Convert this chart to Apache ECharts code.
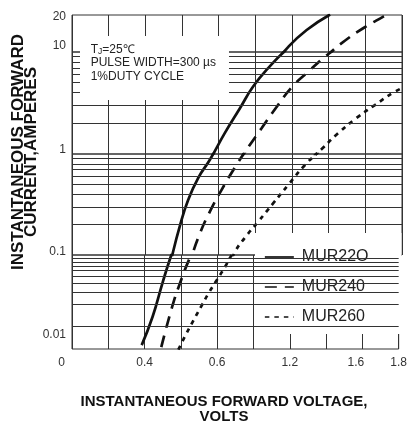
<!DOCTYPE html>
<html><head><meta charset="utf-8">
<script src="https://cdn.jsdelivr.net/npm/echarts@6/dist/echarts.min.js"></script>
<style>html,body{margin:0;padding:0;background:#fff}#c{width:410px;height:425px}</style>
</head><body><div id="c"></div>
<script>
// ---- Data (x: the chart's voltage axis units, y: amperes) ----
const seriesNames = ['MUR22O', 'MUR240', 'MUR260'];
const mur220X = [0.392, 0.422, 0.449, 0.472, 0.495, 0.517, 0.544, 0.576, 0.617, 0.658, 0.694, 0.735, 0.790, 0.840, 0.904];
const mur220Y = [0.00533, 0.0134, 0.0398, 0.0946, 0.199, 0.352, 0.578, 0.878, 1.61, 2.81, 4.58, 6.94, 11.0, 15.1, 20.2];
const mur240X = [0.446, 0.476, 0.499, 0.526, 0.549, 0.576, 0.608, 0.649, 0.676, 0.717, 0.760, 0.801, 0.846, 0.895, 0.945, 0.994, 1.049, 1.062];
const mur240Y = [0.0050, 0.0186, 0.0419, 0.0946, 0.164, 0.269, 0.442, 0.783, 1.10, 1.79, 2.96, 4.58, 6.49, 9.29, 12.4, 15.6, 19.4, 20.3];
const mur260X = [0.493, 0.513, 0.535, 0.558, 0.576, 0.599, 0.622, 0.645, 0.672, 0.708, 0.749, 0.790, 0.836, 0.881, 0.926, 0.975, 1.026, 1.076, 1.104];
const mur260Y = [0.0046, 0.00739, 0.0120, 0.0196, 0.0287, 0.0443, 0.0683, 0.108, 0.149, 0.214, 0.326, 0.496, 0.783, 1.12, 1.60, 2.24, 3.02, 3.99, 4.50];

// ---- Axes ----
const xMin = 0.2, xMax = 1.1, xStep = 0.1;
const xTickValues = [0.2, 0.4, 0.6, 0.8, 1.0, 1.1];
const xTickLabels = ['0', '0.4', '0.6', '1.2', '1.6', '1.8'];
// the log scale is drawn in decade bands [min, max]
const yBands = [[10, 20], [1, 10], [0.1, 1], [0.0047, 0.1]];
const yTickValues = [20, 10, 1, 0.1, 0.01];
const yTickLabels = ['20', '10', '1', '0.1', '0.01'];
const yGridLines = [
  [],
  [2, 3, 4, 5, 6, 7, 8, 9],
  [0.2, 0.3, 0.4, 0.5, 0.6, 0.7, 0.8, 0.9],
  [0.01, 0.02, 0.03, 0.04, 0.05, 0.06, 0.07, 0.08, 0.09]
];
const noteLines = ['T{j|J}=25℃', 'PULSE WIDTH=300 µs', '1%DUTY CYCLE'];
const yTitle = ['INSTANTANEOUS FORWARD', 'CURRENT,AMPERES'];
const xTitle = ['INSTANTANEOUS FORWARD VOLTAGE,', 'VOLTS'];

// ---- Layout / style (not data) ----
const bandTop = [15, 52, 154, 255];
const bandBottom = [52, 154, 255, 349];
const yLabelShift = [2, -6, -4, -3, 9];
const FONT = '"Liberation Sans", Arial, sans-serif';
const GRIDC = '#333';
const INK = '#111';
const lineTypes = ['solid', [12, 8], [4.5, 5]];

const curves = [[mur220X, mur220Y], [mur240X, mur240Y], [mur260X, mur260Y]];
const near = (a, b) => Math.abs(a - b) < 1e-9 * Math.max(1, Math.abs(b));

const yRich = {};
yTickLabels.forEach((t, i) => {
  const s = yLabelShift[i];
  yRich['s' + i] = { padding: s >= 0 ? [2 * s, 0, 0, 0] : [0, 0, -2 * s, 0] };
});
const xRich = { x0: { padding: [0, 21, 0, 0] }, x4: { padding: [0, 13, 0, 0] } };

const assigned = new Set();
const grids = [], xAxes = [], yAxes = [], series = [];
yBands.forEach((band, b) => {
  grids.push({ left: 72, right: 8, top: bandTop[b], height: bandBottom[b] - bandTop[b],
    show: true, borderColor: GRIDC, borderWidth: 1, backgroundColor: 'transparent' });
  const last = b === yBands.length - 1;
  xAxes.push({ type: 'value', gridIndex: b, min: xMin, max: xMax, interval: xStep,
    axisLine: { show: false }, axisTick: { show: false },
    splitLine: { show: true, lineStyle: { color: GRIDC, width: 1 } },
    axisLabel: last ? {
      show: true, customValues: xTickValues, margin: 8, fontSize: 12, color: '#333', fontFamily: FONT,
      rich: xRich,
      formatter: v => { const i = xTickValues.findIndex(t => near(t, v)); return i < 0 ? '' : (xRich['x' + i] ? '{x' + i + '|' + xTickLabels[i] + '}' : xTickLabels[i]); }
    } : { show: false }
  });
  const labs = [];
  yTickValues.forEach((v, i) => {
    if (!assigned.has(i) && v >= band[0] - 1e-12 && v <= band[1] + 1e-12) { assigned.add(i); labs.push(v); }
  });
  yAxes.push({ type: 'log', logBase: 10, gridIndex: b, min: band[0], max: band[1],
    axisLine: { show: false }, axisTick: { show: false }, splitLine: { show: false },
    axisLabel: labs.length ? {
      show: true, customValues: labs, margin: 6, fontSize: 12, color: '#333', fontFamily: FONT, rich: yRich,
      formatter: v => { const i = yTickValues.findIndex(t => near(t, v)); return i < 0 ? '' : '{s' + i + '|' + yTickLabels[i] + '}'; }
    } : { show: false }
  });
  curves.forEach((c, k) => {
    series.push({ type: 'line', name: seriesNames[k], xAxisIndex: b, yAxisIndex: b,
      data: c[0].map((x, i) => [x, c[1][i]]), symbol: 'none', showSymbol: false, smooth: 0.5, clip: true,
      silent: true, z: 3, itemStyle: { color: INK },
      lineStyle: { color: INK, width: 2.7, type: lineTypes[k], cap: 'butt' } });
  });
  if (yGridLines[b].length) {
    series.push({ type: 'line', xAxisIndex: b, yAxisIndex: b, data: [], silent: true, z: 1,
      markLine: { symbol: ['none', 'none'], silent: true, animation: false, label: { show: false },
        lineStyle: { color: GRIDC, width: 1, type: 'solid' },
        emphasis: { disabled: true },
        data: yGridLines[b].map(v => ({ yAxis: v })) } });
  }
});

const chart = echarts.init(document.getElementById('c'), null, { renderer: 'canvas' });
chart.setOption({
  animation: false,
  backgroundColor: '#fff',
  grid: grids, xAxis: xAxes, yAxis: yAxes, series: series,
  title: {
    text: noteLines.join('\n'), left: 80, top: 36, backgroundColor: '#fff', padding: [7, 13, 17, 10.7],
    textStyle: { fontFamily: FONT, fontSize: 12, fontWeight: 'normal', color: '#222', lineHeight: 13.3,
      rich: { j: { fontFamily: FONT, fontSize: 8.5, color: '#222', lineHeight: 9, verticalAlign: 'bottom' } } }
  },
  legend: {
    data: seriesNames, orient: 'vertical', left: 255, top: 233, backgroundColor: '#fff',
    padding: [15, 33, 8, 9], itemWidth: 29, itemHeight: 14, itemGap: 12, selectedMode: false,
    itemStyle: { opacity: 0 },
    lineStyle: { width: 1.7, color: INK },
    textStyle: { fontFamily: FONT, fontSize: 16, color: '#222', lineHeight: 18, padding: [0, 0, 0, 3] }
  },
  graphic: [
    { type: 'text', x: 25, y: 152, rotation: Math.PI / 2, silent: true,
      style: { text: yTitle.join('\n'), font: 'bold 17px ' + FONT, fill: INK, align: 'center', verticalAlign: 'middle', lineHeight: 12.5 } },
    { type: 'text', x: 224, y: 409, silent: true,
      style: { text: xTitle.join('\n'), font: 'bold 15px ' + FONT, fill: INK, align: 'center', verticalAlign: 'middle', lineHeight: 15 } }
  ]
});
</script>
</body></html>
